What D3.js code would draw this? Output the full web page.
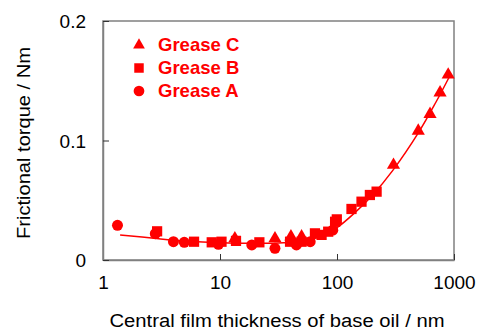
<!DOCTYPE html>
<html><head><meta charset="utf-8">
<script src="https://cdn.jsdelivr.net/npm/d3@7"></script>
<style>body{margin:0;background:#fff}svg{display:block}text{font-family:"Liberation Sans",Arial,sans-serif}</style>
</head><body><svg id="c" width="484" height="334"></svg>
<script>
// Data
const greaseA = [[1.33,0.029],[2.8,0.022],[4.0,0.0153],[4.95,0.0148],[9.7,0.0131],[18.7,0.0126],[29.5,0.0098],[45,0.0126],[59,0.0153],[92,0.025]];
const greaseB = [[2.9,0.024],[6.0,0.0153],[8.5,0.0148],[10.3,0.0153],[13.7,0.016],[21.7,0.0148],[39.7,0.0153],[49.8,0.0153],[64.8,0.0223],[73.8,0.021],[84.1,0.0237],[96.3,0.032],[99.6,0.034],[133,0.0427],[162,0.0488],[191,0.0544],[218,0.0572]];
const greaseC = [[13.4,0.018],[29.5,0.018],[40.4,0.0195],[49.8,0.0195],[304,0.0795],[495,0.108],[624,0.122],[760,0.140],[892,0.155]];
const trend = [[1.4,0.021],[3,0.0178],[5,0.016],[10,0.0145],[20,0.014],[35,0.0145],[60,0.017],[85,0.023],[100,0.027],[140,0.039],[200,0.054],[300,0.075],[500,0.107],[700,0.132],[920,0.154]];
const xTicks = [1,10,100,1000];
const yTicks = [0,0.1,0.2];
const legendItems = ["Grease C","Grease B","Grease A"];

const svg = d3.select("#c");
const L=103,R=454,T=21,B=260;
const x = d3.scaleLog().domain([1,1000]).range([L,R]);
const y = d3.scaleLinear().domain([0,0.2]).range([B,T]);
const red = "#ff0000", gray="#808080";

// frame
svg.append("rect").attr("x",L).attr("y",T).attr("width",R-L).attr("height",B-T)
  .attr("fill","none").attr("stroke",gray).attr("stroke-width",1.5);

// axes
const xa = svg.append("g").attr("transform",`translate(0,${B})`)
  .call(d3.axisBottom(x).tickValues(xTicks).tickFormat(d3.format("d")).tickSizeInner(-6).tickSizeOuter(0).tickPadding(16));
const ya = svg.append("g").attr("transform",`translate(${L},0)`)
  .call(d3.axisLeft(y).tickValues(yTicks).tickFormat(d=>d===0?"0":d3.format(".1f")(d)).tickSizeInner(-6).tickSizeOuter(0).tickPadding(17));
[xa,ya].forEach(g=>{
  g.select(".domain").attr("stroke",gray).attr("stroke-width",1.5);
  g.selectAll(".tick line").attr("stroke","#333").attr("stroke-width",1);
  g.selectAll(".tick text").attr("fill","#000").style("font-size","19px");
});
ya.selectAll(".tick text").attr("dy","0.35em");
xa.selectAll(".tick text").attr("dy","0.71em");

// trend line
svg.append("path").datum(trend).attr("fill","none").attr("stroke",red).attr("stroke-width",1.5)
  .attr("d",d3.line().x(d=>x(d[0])).y(d=>y(d[1])).curve(d3.curveCatmullRom));

const sym = {
  A: d3.symbol().type(d3.symbolCircle).size(95),
  B: d3.symbol().type(d3.symbolSquare).size(105),
  C: d3.symbol().type(d3.symbolTriangle).size(75)
};
function pts(data,s){
  svg.append("g").selectAll("path").data(data).join("path")
    .attr("transform",d=>`translate(${x(d[0])},${y(d[1])})`).attr("d",s).attr("fill",red);
}
pts(greaseA,sym.A); pts(greaseB,sym.B); pts(greaseC,sym.C);

// legend
const lg = svg.append("g");
const lsizes=[d3.symbol().type(d3.symbolTriangle).size(60),d3.symbol().type(d3.symbolSquare).size(90),d3.symbol().type(d3.symbolCircle).size(90)];
legendItems.forEach((t,i)=>{
  lg.append("path").attr("transform",`translate(139,${45+i*23})`).attr("d",lsizes[i]).attr("fill",red);
  lg.append("text").attr("x",158).attr("y",51+i*23).attr("fill",red).style("font-size","18.5px").style("font-weight","bold").text(t);
});

// axis titles
svg.append("text").attr("x",277).attr("y",327).attr("text-anchor","middle").style("font-size","18px").attr("fill","#000")
  .attr("textLength",335).attr("lengthAdjust","spacingAndGlyphs")
  .text("Central film thickness of base oil / nm");
svg.append("text").attr("transform","translate(30,143) rotate(-90)").attr("text-anchor","middle").style("font-size","18.5px").attr("fill","#000")
  .attr("textLength",192).attr("lengthAdjust","spacingAndGlyphs")
  .text("Frictional torque / Nm");
</script></body></html>
